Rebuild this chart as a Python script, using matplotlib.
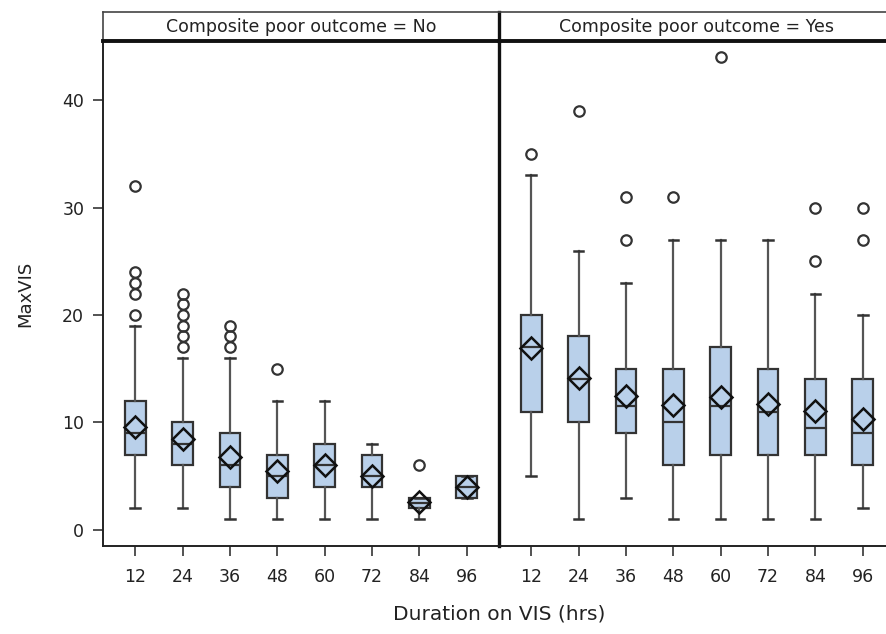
import matplotlib
matplotlib.use("Agg")
import matplotlib.pyplot as plt

plt.rcParams['font.family'] = ['DejaVu Sans']

durations = ["12", "24", "36", "48", "60", "72", "84", "96"]
panel_titles = ["Composite poor outcome = No", "Composite poor outcome = Yes"]

# Summary statistics of MaxVIS per duration, outcome = No
no_q1 = [7, 6, 4, 3, 4, 4, 2, 3]
no_med = [9, 8, 6, 5, 6, 5, 2.5, 4]
no_q3 = [12, 10, 9, 7, 8, 7, 3, 5]
no_lo = [2, 2, 1, 1, 1, 1, 1, 3]
no_hi = [19, 16, 16, 12, 12, 8, 3, 5]
no_mean = [9.6, 8.5, 6.8, 5.5, 6.0, 5.0, 2.6, 4.0]
no_out = [[20, 22, 23, 24, 32], [17, 18, 19, 20, 21, 22], [17, 18, 19], [15],
          [], [], [6], []]

# Summary statistics of MaxVIS per duration, outcome = Yes
yes_q1 = [11, 10, 9, 6, 7, 7, 7, 6]
yes_med = [17, 14, 11.5, 10, 11.5, 11, 9.5, 9]
yes_q3 = [20, 18, 15, 15, 17, 15, 14, 14]
yes_lo = [5, 1, 3, 1, 1, 1, 1, 2]
yes_hi = [33, 26, 23, 27, 27, 27, 22, 20]
yes_mean = [16.9, 14.1, 12.5, 11.6, 12.4, 11.7, 11.1, 10.3]
yes_out = [[35], [39], [27, 31], [31], [44], [], [25, 30], [27, 30]]

y_ticks = [0, 10, 20, 30, 40]

FILL = "#b9d0ea"
EDGE = "#333333"
TEXT = "#222222"


def stats(q1, med, q3, lo, hi, mean, out):
    return [dict(q1=a, med=b, q3=c, whislo=d, whishi=e, mean=f, fliers=g)
            for a, b, c, d, e, f, g in zip(q1, med, q3, lo, hi, mean, out)]


groups = [
    stats(no_q1, no_med, no_q3, no_lo, no_hi, no_mean, no_out),
    stats(yes_q1, yes_med, yes_q3, yes_lo, yes_hi, yes_mean, yes_out),
]

W, H = 887, 634
fig = plt.figure(figsize=(W / 100, H / 100), dpi=100)

left0, panel_w = 103, 396
top_px, bottom_px, strip_top = 41, 546, 12

for i, (st, title) in enumerate(zip(groups, panel_titles)):
    x0 = left0 + i * panel_w
    ax = fig.add_axes([x0 / W, 1 - bottom_px / H, panel_w / W,
                       (bottom_px - top_px) / H])
    ax.set_facecolor("none")
    ax.bxp(st, positions=range(len(durations)), widths=0.44, showmeans=True,
           patch_artist=True, showfliers=True,
           boxprops=dict(facecolor=FILL, edgecolor=EDGE, linewidth=1.6),
           medianprops=dict(color=EDGE, linewidth=1.6),
           whiskerprops=dict(color="#555555", linewidth=1.6),
           capprops=dict(color=EDGE, linewidth=1.8),
           capwidths=0.2,
           meanprops=dict(marker="D", markersize=11.5, markerfacecolor="none",
                          markeredgecolor="#111111", markeredgewidth=1.8),
           flierprops=dict(marker="o", markersize=7.5, markerfacecolor="none",
                           markeredgecolor=EDGE, markeredgewidth=1.6))
    ax.set_xlim(-0.68, 7.68)
    ax.set_ylim(-1.5, 45.5)
    ax.set_xticks(range(len(durations)))
    ax.set_xticklabels(durations)
    ax.tick_params(axis="x", length=7.5, width=1.3, color="#444444",
                   pad=8, labelsize=12.5, labelcolor=TEXT)
    for s in ax.spines.values():
        s.set_color("#222222")
        s.set_linewidth(1.4)
    ax.spines["top"].set_visible(False)
    if i == 0:
        ax.spines["right"].set_linewidth(2.4)
        ax.spines["right"].set_color("#111111")
        ax.set_yticks(y_ticks)
        ax.tick_params(axis="y", length=7.5, width=1.3, color="#444444",
                       pad=6, labelsize=12.5, labelcolor=TEXT)
        ax.set_ylabel("MaxVIS", fontsize=13, color=TEXT, labelpad=20)
    else:
        ax.spines["left"].set_visible(False)
        ax.set_yticks([])

    # facet header strip
    sx = fig.add_axes([x0 / W, 1 - top_px / H, panel_w / W,
                       (top_px - strip_top) / H])
    sx.set_facecolor("none")
    sx.set_xticks([])
    sx.set_yticks([])
    for s in sx.spines.values():
        s.set_color("#444444")
        s.set_linewidth(1.2)
    sx.spines["bottom"].set_linewidth(2.8)
    sx.spines["bottom"].set_color("#111111")
    if i == 0:
        sx.spines["right"].set_linewidth(2.4)
        sx.spines["right"].set_color("#111111")
    else:
        sx.spines["left"].set_visible(False)
    sx.text(0.5, 0.5, title, ha="center", va="center",
            fontsize=12.5, color=TEXT, transform=sx.transAxes)

fig.text((left0 + panel_w) / W, 1 - 614 / H, "Duration on VIS (hrs)",
         ha="center", va="center", fontsize=14.5, color=TEXT)

fig.savefig("out.png", dpi=100)
